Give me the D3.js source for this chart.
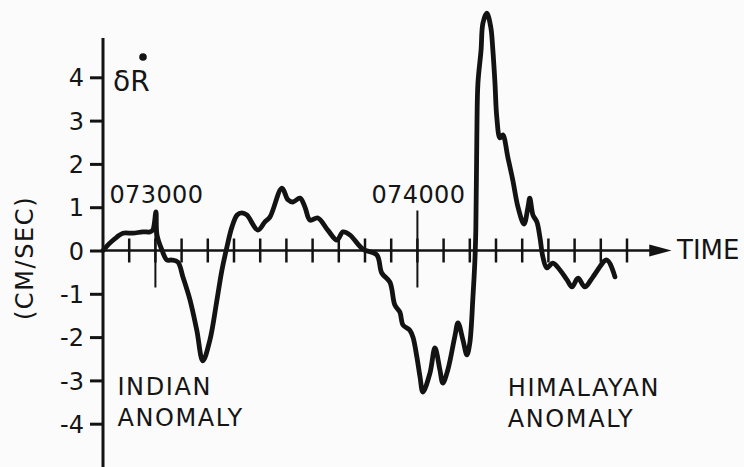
<!DOCTYPE html>
<html>
<head>
<meta charset="utf-8">
<script src="https://cdn.jsdelivr.net/npm/d3@7/dist/d3.min.js"></script>
<style>
  html, body { margin: 0; padding: 0; background: #fbfbfb; }
  svg { display: block; }
  text { font-family: "DejaVu Sans", sans-serif; fill: #151515; }
</style>
</head>
<body>
<svg id="chart" width="744" height="467"></svg>
<script>
// Time in minutes relative to 07:30:00
const timeMinutes = [-2.00,-1.74,-1.47,-1.24,-0.86,-0.48,-0.21,-0.10,0.02,0.06,0.25,0.44,0.63,0.86,1.05,1.32,1.58,1.81,2.08,2.35,2.54,2.73,2.92,3.12,3.30,3.49,3.91,4.18,4.37,4.83,5.06,5.25,5.52,5.71,5.90,6.20,6.58,6.93,7.16,7.42,7.92,8.45,8.64,8.95,9.14,9.33,9.45,9.71,9.83,9.98,10.10,10.21,10.48,10.67,10.86,10.97,11.16,11.43,11.55,11.74,11.89,12.00,12.12,12.19,12.23,12.27,12.31,12.43,12.50,12.65,12.80,12.88,12.96,13.03,13.15,13.26,13.45,13.64,13.84,14.07,14.22,14.29,14.41,14.56,14.68,14.79,14.94,15.17,15.44,15.71,15.90,16.13,16.39,16.70,17.23,17.54];
// Range-rate residual (cm/sec)
const rangeRate = [0.00,0.17,0.31,0.40,0.40,0.43,0.43,0.47,0.89,0.36,0.01,-0.22,-0.22,-0.27,-0.61,-1.14,-1.84,-2.55,-2.07,-1.14,-0.45,0.08,0.54,0.82,0.87,0.82,0.47,0.66,0.77,1.44,1.17,1.12,1.21,1.00,0.70,0.75,0.47,0.24,0.43,0.36,0.03,-0.10,-0.52,-0.73,-1.26,-1.42,-1.72,-1.84,-2.00,-2.46,-2.92,-3.27,-2.83,-2.25,-2.76,-3.06,-2.76,-1.98,-1.67,-2.07,-2.41,-2.14,-1.07,-0.29,0.47,2.71,3.86,4.63,5.25,5.48,5.16,4.63,3.87,3.08,2.60,2.67,2.16,1.63,1.00,0.61,1.00,1.21,0.82,0.66,0.29,-0.15,-0.40,-0.29,-0.45,-0.68,-0.84,-0.64,-0.84,-0.61,-0.22,-0.61];

const yTicks = [4, 3, 2, 1, 0, -1, -2, -3, -4];
const yTickLabels = ["4", "3", "2", "1", "0", "-1", "-2", "-3", "-4"];
const xMinorTicks = [-1,0,1,2,3,4,5,6,7,8,9,10,11,12,13,14,15,16,17,18];
const xMajorTicks = [0, 10];
const xMajorLabels = ["073000", "074000"];
const yAxisLabel = "(CM/SEC)";
const xAxisLabel = "TIME";
const annotations = [
  { t: -1.45, v: -3.33, lines: ["INDIAN", "ANOMALY"] },
  { t: 13.45, v: -3.35, lines: ["HIMALAYAN", "ANOMALY"] }
];

const ink = "#131313";
const svg = d3.select("#chart");

const x = d3.scaleLinear().domain([-2, 20]).range([103, 103 + 22 * 26.2]);
const y = d3.scaleLinear().domain([-5, 5]).range([467, 34]);

// Y axis line
svg.append("line")
  .attr("x1", x(-2)).attr("x2", x(-2))
  .attr("y1", y(4.91)).attr("y2", y(-5))
  .attr("stroke", ink).attr("stroke-width", 3);

// Y ticks
const yAxis = d3.axisLeft(y)
  .tickValues(yTicks)
  .tickSize(13)
  .tickPadding(6)
  .tickFormat((d, i) => yTickLabels[i]);
const gy = svg.append("g").attr("transform", `translate(${x(-2)},0)`).call(yAxis);
gy.select(".domain").remove();
gy.selectAll(".tick line").attr("stroke", ink).attr("stroke-width", 3);
gy.selectAll(".tick text")
  .style("font-family", '"DejaVu Sans", sans-serif')
  .style("font-size", "24px")
  .attr("fill", ink)
  .attr("dy", "0.36em");

// X axis line + arrow
svg.append("line")
  .attr("x1", x(-2)).attr("x2", x(18.9))
  .attr("y1", y(0)).attr("y2", y(0))
  .attr("stroke", ink).attr("stroke-width", 2.5);
svg.append("path")
  .attr("d", `M${x(18.85)},${y(0) - 6} L${x(19.7)},${y(0)} L${x(18.85)},${y(0) + 6} Z`)
  .attr("fill", ink);

// Minor ticks crossing axis
svg.append("g").selectAll("line")
  .data(xMinorTicks)
  .join("line")
  .attr("x1", d => x(d)).attr("x2", d => x(d))
  .attr("y1", y(0) - 12).attr("y2", y(0) + 12)
  .attr("stroke", ink).attr("stroke-width", 2.5);

// Major ticks
svg.append("g").selectAll("line")
  .data(xMajorTicks)
  .join("line")
  .attr("x1", d => x(d)).attr("x2", d => x(d))
  .attr("y1", y(0) - 40).attr("y2", y(0) + 37)
  .attr("stroke", ink).attr("stroke-width", 2);

svg.append("g").selectAll("text")
  .data(xMajorTicks)
  .join("text")
  .attr("x", d => x(d) + 1)
  .attr("y", 203)
  .attr("text-anchor", "middle")
  .style("font-size", "24px")
  .style("letter-spacing", "0.4px")
  .text((d, i) => xMajorLabels[i]);

// TIME label
svg.append("text")
  .attr("x", 677).attr("y", 259)
  .style("font-size", "26px")
  .text(xAxisLabel);

// Y axis label
svg.append("text")
  .attr("transform", "translate(33,258) rotate(-90)")
  .attr("text-anchor", "middle")
  .style("font-size", "24px")
  .style("letter-spacing", "1.6px")
  .text(yAxisLabel);

// delta R-dot symbol
svg.append("text")
  .attr("x", 113).attr("y", 91)
  .style("font-size", "28px")
  .text("δR");
svg.append("circle").attr("cx", 143).attr("cy", 57).attr("r", 3.8).attr("fill", ink);

// Annotations
annotations.forEach(a => {
  const t = svg.append("text")
    .attr("x", x(a.t)).attr("y", y(a.v))
    .style("font-size", "24px")
    .style("letter-spacing", "1.6px");
  a.lines.forEach((ln, i) => {
    t.append("tspan").attr("x", x(a.t)).attr("dy", i === 0 ? 0 : 31).text(ln);
  });
});

// Data curve
const data = timeMinutes.map((t, i) => ({ t, v: rangeRate[i] }));
const line = d3.line()
  .x(d => x(d.t))
  .y(d => y(d.v))
  .curve(d3.curveCatmullRom.alpha(0.5));
svg.append("path")
  .datum(data)
  .attr("d", line)
  .attr("fill", "none")
  .attr("stroke", ink)
  .attr("stroke-width", 4.8)
  .attr("stroke-linejoin", "round")
  .attr("stroke-linecap", "round");
</script>
</body>
</html>
